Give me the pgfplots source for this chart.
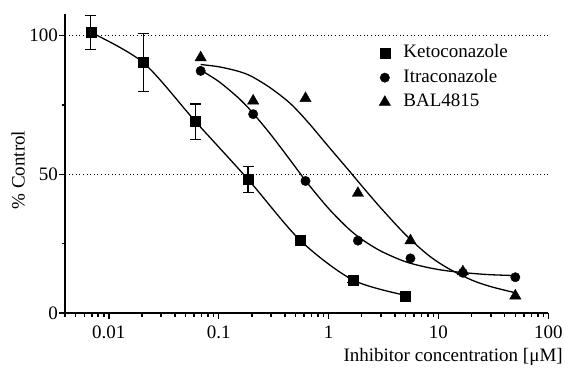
\documentclass[border=0pt]{standalone}
\usepackage{fontspec}
\setmainfont{Liberation Serif}
\usepackage{pgfplots}
\pgfplotsset{compat=1.18}
\newcommand{\chartfont}{\fontsize{19}{22}\selectfont}
\begin{document}
\begin{tikzpicture}
\begin{axis}[
  scale only axis, width=483.4pt, height=299.5pt,
  xmode=log, xmin=0.004, xmax=100, ymin=0, ymax=108,
  axis x line*=bottom, axis y line*=left,
  axis line style={line width=2.4pt},
  xtick={0.01,0.1,1,10,100}, xticklabels={0.01,0.1,1,10,100},
  minor xtick={0.004,0.005,0.006,0.007,0.008,0.009,0.02,0.03,0.04,0.05,0.06,0.07,0.08,0.09,0.2,0.3,0.4,0.5,0.6,0.7,0.8,0.9,2,3,4,5,6,7,8,9,20,30,40,50,60,70,80,90},
  ytick={0,50,100}, minor ytick={25,75},
  tick align=outside,
  major tick length=6pt, minor tick length=3.5pt,
  every tick/.style={black, line width=1.6pt},
  ymajorgrids, grid style={black, line width=1pt, dash pattern=on 1pt off 2.6pt},
  tick label style={font=\chartfont},
  /pgf/number format/assume math mode=true,
  yticklabel style={inner sep=1pt},
  xticklabel style={yshift=-3pt},
  xlabel={Inhibitor concentration [μM]},
  x label style={at={(axis description cs:1.030,-0.147)}, anchor=east, font=\chartfont, inner sep=0pt},
  ylabel={\% Control},
  y label style={at={(axis description cs:-0.097,0.477)}, anchor=center, rotate=0, font=\chartfont, inner sep=0pt},
  legend cell align=left,
  legend style={draw=none, fill=none, at={(axis description cs:0.6496,0.8975)}, anchor=north west,
    inner sep=0pt, row sep=7pt, column sep=13pt, font=\chartfont,
    nodes={inner sep=0pt, text height=13.5pt, text depth=4pt}},
  legend image code/.code={\draw[#1] plot coordinates {(0pt,0pt)};},
  clip=false,
]
% fitted curves
\addplot[black, line width=1.3pt, smooth, forget plot] coordinates {
(0.00686,101.2) (0.0206,90.3) (0.0617,69.0) (0.185,48.2) (0.556,26.1) (1.667,11.9) (5,6.4)};
\addplot[black, line width=1.3pt, smooth, forget plot] coordinates {
(0.0686,87.6) (0.1,83.5) (0.15,77.7) (0.2,72.6) (0.3,64.2) (0.45,55.0) (0.65,46.6) (1,37.7) (1.5,30.6) (2,26.6) (3,22.3) (5,18.5) (8,16.4) (12,15.2) (20,14.3) (30,13.8) (50,13.5)};
\addplot[black, line width=1.3pt, smooth, forget plot] coordinates {
(0.0686,89.6) (0.1,88.8) (0.15,87.2) (0.2,85.3) (0.3,81.0) (0.45,75.5) (0.65,68.8) (1,60.0) (1.5,51.8) (2,45.9) (3,37.8) (5,28.3) (8,21.0) (12,16.3) (20,11.9) (30,9.5) (50,7.3)};
% data
\addplot[black, only marks, mark=square*, mark size=5pt,
  error bars/.cd, y dir=both, y explicit,
  error bar style={line width=1.3pt},
  error mark options={rotate=90, mark size=5.5pt, line width=1.3pt}]
  table[x=x, y=y, y error=e] {
x y e
0.00686 101.2 6.2
0.0206 90.3 10.5
0.0617 69.0 6.4
0.185 48.2 4.7
0.556 26.1 0.8
1.667 11.9 1.0
5 6.1 0.6
};
\addlegendentry{Ketoconazole}
\addplot[black, only marks, mark=*, mark size=4.7pt] table[x=x, y=y] {
x y
0.0686 87.3
0.206 71.7
0.617 47.6
1.85 26.1
5.56 19.7
16.67 14.5
50 12.9
};
\addlegendentry{Itraconazole}
\addplot[black, only marks, mark=triangle*, mark size=6.5pt] table[x=x, y=y] {
x y
0.0686 92.1
0.206 76.5
0.617 77.4
1.85 43.2
5.56 26.1
16.67 14.9
50 6.2
};
\addlegendentry{BAL4815}
\end{axis}
\pgfresetboundingbox
\path[use as bounding box] (-65pt,-55pt) rectangle (500pt,313pt);
\end{tikzpicture}
\end{document}
